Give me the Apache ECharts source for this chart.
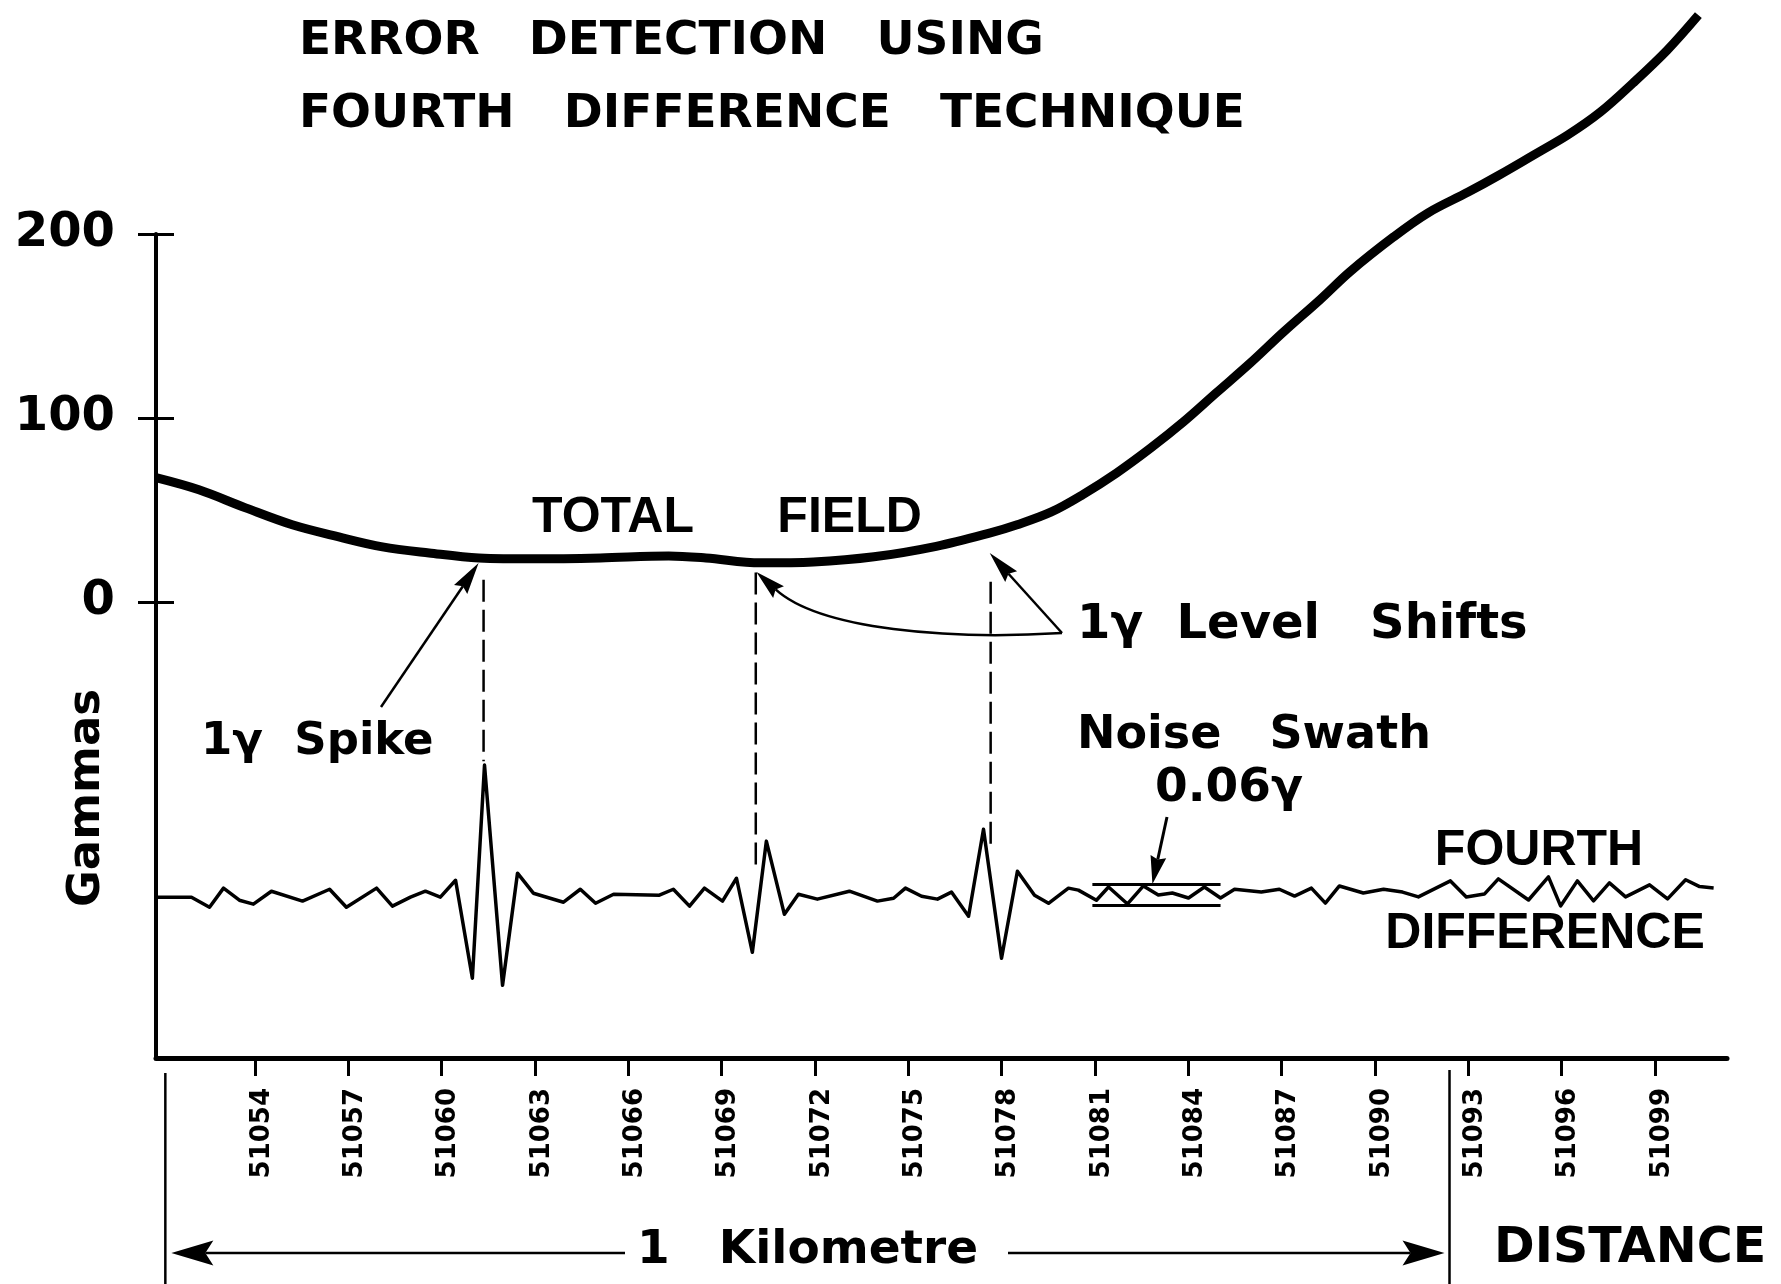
<!DOCTYPE html>
<html>
<head>
<meta charset="utf-8">
<script src="https://cdn.jsdelivr.net/npm/echarts@6/dist/echarts.min.js"></script>
<style>
  html, body { margin: 0; padding: 0; background: #fff; }
  #chart { width: 1781px; height: 1284px; }
</style>
</head>
<body>
<div id="chart"></div>
<script>
// ---- data -------------------------------------------------------------
// Fiducial numbers labelled along the flight line
const fiducialTicks = [51054, 51057, 51060, 51063, 51066, 51069, 51072, 51075,
                       51078, 51081, 51084, 51087, 51090, 51093, 51096, 51099];
// Labelled gamma levels on the vertical axis
const gammaTicks = [0, 100, 200];

// Total magnetic field (gammas) against fiducial
const fieldFid = [51050.82, 51052.2, 51053.7, 51055.2, 51056.7, 51058.1, 51059.6, 51061.2,
                  51063.05, 51065.1, 51067.3, 51068.5, 51070.25, 51071.95, 51073.9, 51075.9,
                  51077.64, 51078.5, 51079.6, 51080.6, 51081.7, 51082.8, 51083.85, 51084.9,
                  51086.0, 51087.05, 51088.25, 51089.2, 51090.6, 51091.7, 51093.0, 51094.0,
                  51095.1, 51096.2, 51097.25, 51098.3, 51099.4, 51100.4];
const fieldGamma = [67.5, 60.9, 51.1, 41.9, 35.3, 29.9, 26.6, 23.9,
                    23.4, 23.9, 25.0, 23.9, 21.2, 21.7, 24.5, 30.2,
                    37.5, 41.9, 48.9, 58.2, 70.1, 83.7, 97.9, 113.6,
                    129.9, 146.5, 164.5, 179.5, 198.4, 211.4, 222.8, 232.1,
                    242.9, 253.8, 266.3, 282.1, 300.0, 319.0];

// Fourth difference of the same record (relative units)
const diffFid = [51050.85, 51051.96, 51052.54, 51052.99, 51053.5, 51053.95, 51054.53, 51055.53,
                 51056.4, 51056.94, 51057.91, 51058.42, 51059.0, 51059.48, 51059.96, 51060.45,
                 51060.99, 51061.38, 51061.96, 51062.44, 51062.95, 51063.92, 51064.46, 51064.95,
                 51065.53, 51067.0, 51067.45, 51067.97, 51068.45, 51069.03, 51069.48, 51069.99,
                 51070.44, 51071.02, 51071.47, 51072.08, 51073.11, 51074.01, 51074.53, 51074.91,
                 51075.43, 51075.94, 51076.39, 51076.94, 51077.42, 51078.0, 51078.51, 51079.06,
                 51079.51, 51080.15, 51080.47, 51081.05, 51081.44, 51082.05, 51082.56, 51083.04,
                 51083.49, 51084.01, 51084.52, 51085.04, 51085.49, 51086.35, 51086.93, 51087.42,
                 51087.96, 51088.41, 51088.86, 51089.63, 51090.28, 51090.89, 51091.4, 51092.43,
                 51092.94, 51093.52, 51093.97, 51094.94, 51095.58, 51095.97, 51096.51, 51097.03,
                 51097.54, 51098.06, 51098.83, 51099.41, 51099.99, 51100.44, 51100.89];
const diffValue = [-0.18, -0.18, -0.64, 0.23, -0.32, -0.5, 0.09, -0.36,
                   0.18, -0.64, 0.23, -0.59, -0.18, 0.09, -0.18, 0.59,
                   -3.87, 5.83, -4.19, 0.91, 0.0, -0.41, 0.18, -0.46,
                   -0.05, -0.09, 0.18, -0.59, 0.23, -0.36, 0.68, -2.69,
                   2.37, -0.96, -0.05, -0.27, 0.09, -0.36, -0.23, 0.23,
                   -0.14, -0.27, 0.05, -1.05, 2.91, -2.96, 1.0, -0.09,
                   -0.46, 0.23, 0.14, -0.32, 0.28, -0.49, 0.33, -0.08,
                   0.01, -0.22, 0.28, -0.22, 0.18, 0.05, 0.18, -0.13,
                   0.23, -0.45, 0.33, 0.01, 0.18, 0.05, -0.17, 0.56,
                   -0.17, -0.04, 0.65, -0.31, 0.74, -0.58, 0.56, -0.35,
                   0.47, -0.17, 0.38, -0.26, 0.61, 0.3, 0.24];

// Noise swath envelope on the fourth difference
const swathFid = [51080.92, 51085.04];
const swathLevel = [0.42, -0.54];

// Located errors: the spike and the two level shifts
const errorFid = [51061.35, 51070.1, 51077.65];
const errorFieldTop = [12, 16, 11];      // gammas, just under the total field trace
const errorDiffEnd = [6.0, 1.05, 2.1];   // fourth-difference units

// One kilometre of flight line, in fiducials
const kilometreFid = [51051.12, 51092.4];

// ---- chart ------------------------------------------------------------
const BLACK = '#000';
const DV = '"DejaVu Sans", "Liberation Sans", sans-serif';
const LS = '"Liberation Sans", Arial, sans-serif';

const chart = echarts.init(document.getElementById('chart'), null, { renderer: 'canvas' });

const option = {
  animation: false,
  backgroundColor: '#fff',
  title: {
    text: 'ERROR   DETECTION   USING\nFOURTH   DIFFERENCE   TECHNIQUE',
    left: 299,
    top: 6,
    padding: 0,
    textStyle: {
      fontFamily: DV, fontWeight: 'bold', fontSize: 47, lineHeight: 72.5, color: BLACK
    }
  },
  grid: { left: 156, right: 54, top: 234, bottom: 226, containLabel: false },
  xAxis: {
    type: 'value',
    min: 51050.82,
    max: 51101.32,
    axisLine: { onZero: false, lineStyle: { color: BLACK, width: 5 } },
    axisTick: { show: true, length: 18, customValues: fiducialTicks,
                lineStyle: { color: BLACK, width: 3 } },
    axisLabel: {
      customValues: fiducialTicks, rotate: 90, margin: 30,
      fontSize: 26, fontWeight: 'bold', fontFamily: DV, color: BLACK,
      verticalAlign: 'top', lineHeight: 14,
      formatter: v => String(v)
    },
    splitLine: { show: false }
  },
  yAxis: [
    {
      type: 'value', min: -248, max: 200, position: 'left',
      axisLine: { show: true, onZero: false, lineStyle: { color: BLACK, width: 4 } },
      axisTick: { show: true, length: 18, customValues: gammaTicks,
                  lineStyle: { color: BLACK, width: 3 } },
      axisLabel: { customValues: gammaTicks, margin: 41, fontSize: 48, fontWeight: 'bold',
                   fontFamily: DV, color: BLACK },
      splitLine: { show: false }
    },
    { type: 'value', min: -7.5, max: 30, show: false },
    {
      // inner half of the gamma ticks, so they cross the axis line
      type: 'value', min: -248, max: 200, position: 'left',
      axisLine: { show: false, onZero: false },
      axisTick: { show: true, inside: true, length: 18, customValues: gammaTicks,
                  lineStyle: { color: BLACK, width: 3 } },
      axisLabel: { show: false },
      splitLine: { show: false }
    }
  ],
  series: [
    {
      name: 'Total field',
      type: 'line',
      xAxisIndex: 0, yAxisIndex: 0,
      data: fieldFid.map((f, i) => [f, fieldGamma[i]]),
      smooth: 0.35,
      symbol: 'none',
      clip: false,
      lineStyle: { color: BLACK, width: 9, cap: 'butt', join: 'round' }
    },
    {
      name: 'Fourth difference',
      type: 'line',
      xAxisIndex: 0, yAxisIndex: 1,
      data: diffFid.map((f, i) => [f, diffValue[i]]),
      symbol: 'none',
      lineStyle: { color: BLACK, width: 3.5, join: 'round' },
      markLine: {
        silent: true,
        symbol: 'none',
        label: { show: false },
        lineStyle: { color: BLACK, width: 3, type: 'solid' },
        data: swathLevel.map(v => [{ coord: [swathFid[0], v] }, { coord: [swathFid[1], v] }])
      }
    }
  ]
};

chart.setOption(option);

// ---- annotations ------------------------------------------------------
const toPx = (fid, val, yAxisIndex) =>
  chart.convertToPixel({ xAxisIndex: 0, yAxisIndex: yAxisIndex }, [fid, val]);

function text(str, x, y, font, align, extra) {
  return Object.assign({
    type: 'text', x: x, y: y, silent: true,
    style: { text: str, font: font, fill: BLACK,
             align: align, textAlign: align,
             verticalAlign: 'middle', textVerticalAlign: 'middle' }
  }, extra || {});
}
function seg(a, b, width, dash) {
  return { type: 'line', silent: true,
           shape: { x1: a[0], y1: a[1], x2: b[0], y2: b[1] },
           style: { stroke: BLACK, lineWidth: width, lineDash: dash || null } };
}
// filled, slightly barbed arrow head; returns [head, point where the shaft should stop]
function head(tip, from, len, half, notch) {
  const dx = tip[0] - from[0], dy = tip[1] - from[1];
  const d = Math.hypot(dx, dy), ux = dx / d, uy = dy / d;
  const bx = tip[0] - ux * len, by = tip[1] - uy * len;
  const nx = -uy, ny = ux;
  const inner = [tip[0] - ux * (len - notch), tip[1] - uy * (len - notch)];
  return [{
    type: 'polygon', silent: true,
    shape: { points: [tip, [bx + nx * half, by + ny * half], inner, [bx - nx * half, by - ny * half]] },
    style: { fill: BLACK }
  }, inner];
}
function arrow(from, tip, width, len, half, notch) {
  const h = head(tip, from, len, half, notch);
  return [seg(from, h[1], width), h[0]];
}

const g = [];

// dashed verticals tying each error on the total field to its fourth-difference signature
errorFid.forEach((f, i) => {
  g.push(seg(toPx(f, errorFieldTop[i], 0), toPx(f, errorDiffEnd[i], 1), 2.5, [22, 8]));
});

// 1γ spike pointer
g.push(...arrow([381, 707], toPx(51061.19, 21.1, 0), 2.5, 32, 8, 4));

// level shift pointers, both leaving from beside the label
const shiftTail = [1062, 633];
const shiftTipA = toPx(51070.12, 16.3, 0);
const shiftTipB = toPx(51077.62, 26.6, 0);
const cA2 = [820, 630];
const hA = head(shiftTipA, cA2, 30, 8, 4);
g.push({
  type: 'bezierCurve', silent: true,
  shape: { x1: shiftTail[0], y1: shiftTail[1], x2: hA[1][0], y2: hA[1][1],
           cpx1: 950, cpy1: 640, cpx2: cA2[0], cpy2: cA2[1] },
  style: { stroke: BLACK, lineWidth: 2.5, fill: null }
});
g.push(hA[0]);
g.push(...arrow(shiftTail, shiftTipB, 2.5, 32, 8, 4));

// noise swath pointer
g.push(...arrow([1167, 817], toPx(51082.85, swathLevel[0], 1), 3, 28, 8, 3));

// one-kilometre scale below the fiducials
const kmL = toPx(kilometreFid[0], 0, 0)[0];
const kmR = toPx(kilometreFid[1], 0, 0)[0];
g.push(seg([kmL, 1073], [kmL, 1284], 2.5));
g.push(seg([kmR, 1070], [kmR, 1284], 2.5));
g.push(...arrow([625, 1253], [kmL + 6, 1253], 2.5, 42, 12.5, 8));
g.push(...arrow([1008, 1253], [kmR - 5, 1253], 2.5, 42, 12.5, 8));

// labels
g.push(text('TOTAL      FIELD', 532, 518, 'bold 50px ' + LS, 'left'));
g.push(text('1γ  Level   Shifts', 1077, 626, 'bold 48px ' + DV, 'left'));
g.push(text('1γ  Spike', 201, 742, 'bold 45px ' + DV, 'left'));
g.push(text('Noise   Swath', 1077, 736, 'bold 46px ' + DV, 'left'));
g.push(text('0.06γ', 1229, 789, 'bold 47px ' + DV, 'center'));
g.push(text('FOURTH', 1539, 851, 'bold 50px ' + LS, 'center'));
g.push(text('DIFFERENCE', 1545, 934, 'bold 50px ' + LS, 'center'));
g.push(text('1   Kilometre', 637, 1251, 'bold 47px ' + DV, 'left'));
g.push(text('DISTANCE', 1494, 1249, 'bold 49px ' + DV, 'left'));
g.push(text('Gammas', 87, 798, 'bold 45px ' + DV, 'center', { rotation: Math.PI / 2 }));

chart.setOption({ graphic: { elements: g } });
</script>
</body>
</html>
